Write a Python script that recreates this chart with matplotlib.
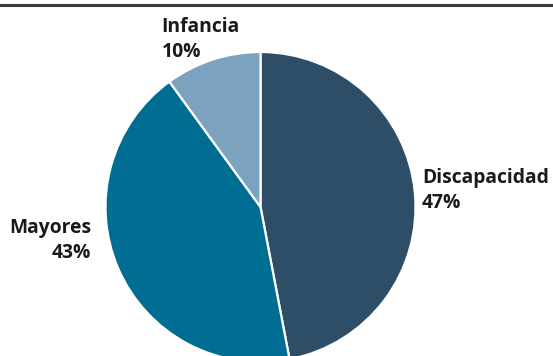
import matplotlib
matplotlib.use('Agg')
import matplotlib.pyplot as plt
from matplotlib.lines import Line2D

categories = ['Discapacidad', 'Mayores', 'Infancia']
values = [47, 43, 10]
colors = ['#2d4e66', '#006e92', '#7ba3bf']

W, H = 553, 356
fig = plt.figure(figsize=(W / 100, H / 100), dpi=100)
ax = fig.add_axes([0, 0, 1, 1])

# pie in pixel-like coords (y up)
ax.pie(values, colors=colors, startangle=90, counterclock=False,
       center=(260.5, H - 207), radius=155,
       wedgeprops=dict(edgecolor='white', linewidth=1.6))
ax.set_xlim(0, W)
ax.set_ylim(0, H)
ax.set_aspect('equal')
ax.axis('off')

font = dict(family=['Open Sans', 'DejaVu Sans'], fontweight='bold', fontsize=13.9, color='#1a1a1a')
# (x, first baseline, align) for each label
label_pos = [(422, 183, 'left'), (91, 233, 'right'), (161.5, 31.7, 'left')]
for cat, val, (x, yb, ha) in zip(categories, values, label_pos):
    ax.text(x, H - yb, cat, ha=ha, va='baseline', **font)
    ax.text(x, H - yb - 25, '%d%%' % val, ha=ha, va='baseline', **font)

# top rule
fig.add_artist(Line2D([0, 1], [1 - 4.5 / H, 1 - 4.5 / H], transform=fig.transFigure,
                      color='#3a3a3a', linewidth=2.2))

plt.savefig('out.png', dpi=100)
